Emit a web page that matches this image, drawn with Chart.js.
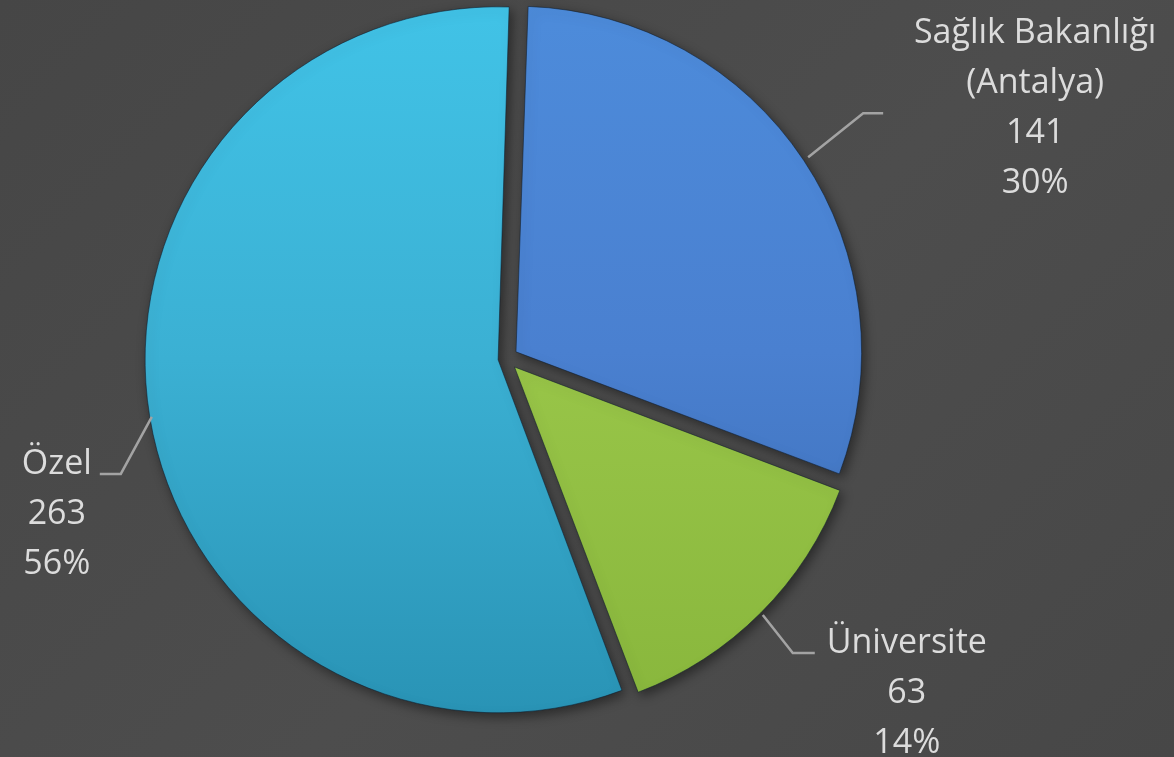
<!DOCTYPE html>
<html lang="tr">
<head>
<meta charset="utf-8">
<title>Dağılım</title>
<script src="https://cdn.jsdelivr.net/npm/chart.js@4.4.1/dist/chart.umd.min.js"></script>
<style>
  html, body {
    margin: 0;
    padding: 0;
    overflow: hidden;
  }
  body {
    width: 1174px;
    height: 757px;
    background: linear-gradient(135deg, #464646 0%, #4d4d4d 55%, #474747 100%);
  }
  #wrap {
    position: relative;
    width: 1174px;
    height: 757px;
  }
</style>
</head>
<body>
<div id="wrap"><canvas id="pie"></canvas></div>
<script>
const categories = ['Sağlık Bakanlığı (Antalya)', 'Üniversite', 'Özel'];
const categoryLines = [['Sağlık Bakanlığı', '(Antalya)'], ['Üniversite'], ['Özel']];
const counts = [141, 63, 263];
const percentLabels = ['30%', '14%', '56%'];

// top / middle / bottom shade of each slice
const sliceShades = [
  ['#4d8cdb', '#4a80d0', '#3a6bb2'],
  ['#aad34d', '#98c548', '#88b63c'],
  ['#41c3e7', '#3bb0d3', '#2993b5'],
];
const sliceOffsets = [48, 48, 32];

// leader line: elbow relative to the slice edge, tail length, text relative to tail end
const labelLayout = [
  { elbow: [55, -44], tail: 20, text: [152, -70], lineHeight: 50 },
  { elbow: [30, 38], tail: 22, text: [92, 0], lineHeight: 50 },
  { elbow: [-31, 57], tail: -21, text: [-43, 0], lineHeight: 50 },
];

const TEXT_COLOR = '#dcdcdc';
const LEADER_COLOR = '#a3a3a3';
const FONT = '34px "Open Sans", Lato, sans-serif';

function sliceGradient(context, index) {
  const chart = context.chart;
  const area = chart.chartArea;
  const shades = sliceShades[index];
  if (!area) {
    return shades[1];
  }
  const g = chart.ctx.createLinearGradient(0, area.top, 0, area.bottom);
  g.addColorStop(0, shades[0]);
  g.addColorStop(0.5, shades[1]);
  g.addColorStop(1, shades[2]);
  return g;
}

const shadowPlugin = {
  id: 'sliceShadow',
  beforeDatasetsDraw(chart) {
    const ctx = chart.ctx;
    ctx.save();
    ctx.shadowColor = 'rgba(0, 0, 0, 0.45)';
    ctx.shadowBlur = 12;
    ctx.shadowOffsetX = 3;
    ctx.shadowOffsetY = 4;
  },
  afterDatasetsDraw(chart) {
    chart.ctx.restore();
  },
};

const outsideLabels = {
  id: 'outsideLabels',
  afterDraw(chart) {
    const ctx = chart.ctx;
    const meta = chart.getDatasetMeta(0);

    meta.data.forEach((arc, i) => {
      const p = arc.getProps(['x', 'y', 'startAngle', 'endAngle', 'outerRadius'], true);
      const mid = (p.startAngle + p.endAngle) / 2;
      const dist = p.outerRadius + sliceOffsets[i] / 4 + 6;
      const ax = p.x + Math.cos(mid) * dist;
      const ay = p.y + Math.sin(mid) * dist;
      const layout = labelLayout[i];
      const ex = ax + layout.elbow[0];
      const ey = ay + layout.elbow[1];
      const tx = ex + layout.tail;

      ctx.save();
      ctx.strokeStyle = LEADER_COLOR;
      ctx.lineWidth = 2.5;
      ctx.beginPath();
      ctx.moveTo(ax, ay);
      ctx.lineTo(ex, ey);
      ctx.lineTo(tx, ey);
      ctx.stroke();

      const lines = [...categoryLines[i], String(counts[i]), percentLabels[i]];
      ctx.fillStyle = TEXT_COLOR;
      ctx.font = FONT;
      ctx.textAlign = 'center';
      ctx.textBaseline = 'alphabetic';
      const cx = tx + layout.text[0];
      const cy = ey + layout.text[1];
      lines.forEach((line, n) => {
        ctx.fillText(line, cx, cy + n * layout.lineHeight);
      });
      ctx.restore();
    });
  },
};

new Chart(document.getElementById('pie'), {
  type: 'pie',
  data: {
    labels: categories,
    datasets: [{
      data: counts,
      backgroundColor: (context) => sliceGradient(context, context.dataIndex),
      borderColor: 'rgba(15, 30, 45, 0.55)',
      borderWidth: 1,
      offset: sliceOffsets,
      hoverOffset: 0,
    }],
  },
  options: {
    responsive: true,
    maintainAspectRatio: false,
    animation: false,
    rotation: 2,
    radius: 345,
    layout: {
      padding: { top: 0, bottom: 40, left: 0, right: 162 },
    },
    plugins: {
      legend: { display: false },
      tooltip: { enabled: false },
    },
    events: [],
  },
  plugins: [shadowPlugin, outsideLabels],
});
</script>
</body>
</html>
